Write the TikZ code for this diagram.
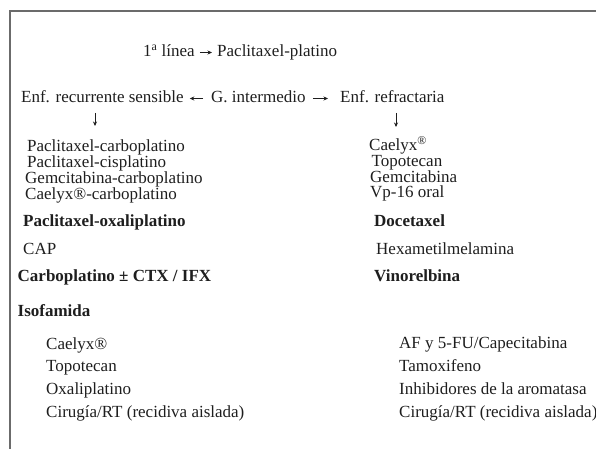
\documentclass[tikz,border=0pt]{standalone}
\usepackage{fontspec}
\setmainfont{Liberation Serif}
\usetikzlibrary{arrows.meta}

\begin{document}
\begin{tikzpicture}[x=1pt,y=-1pt]
    \definecolor{frameColour}{HTML}{6B6B6B}
    \definecolor{textColour}{HTML}{1E1E1E}

    \tikzset{
        txt/.style={anchor=base west, inner sep=0pt, text=textColour, font=\fontsize{17}{20}\selectfont},
        btxt/.style={txt, font=\fontsize{17}{20}\selectfont\bfseries},
        arr/.style={draw=textColour, line width=0.6pt, -{Stealth[length=4.5pt,width=4pt]}}
    }

    \def\arrowLift{4.5pt}

    \useasboundingbox (0,0) rectangle (596,449);

    % Draw frame
    \draw[frameColour, line width=1.6pt] (10,449) -- (10,11) -- (596,11);

    % First line
    \node[txt] (linea) at (143,57) {1\textsuperscript{a} línea};
    \node[txt] (platino) at (217,57) {Paclitaxel-platino};
    \draw[arr, shorten <=5pt, shorten >=5pt] ([yshift=\arrowLift]linea.base east) -- ([yshift=\arrowLift]platino.base west);

    % Groups
    \node[txt] (sens) at (21,103) {Enf. recurrente sensible};
    \node[txt] (inter) at (211,103) {G. intermedio};
    \node[txt] (refr) at (340,103) {Enf. refractaria};
    \draw[arr, shorten <=8pt, shorten >=6pt] ([yshift=\arrowLift]inter.base west) -- ([yshift=\arrowLift]sens.base east);
    \draw[arr, shorten <=7pt, shorten >=12pt] ([yshift=\arrowLift]inter.base east) -- ([yshift=\arrowLift]refr.base west);

    % Down arrows
    \coordinate (sensTop) at (95,113);
    \coordinate (sensEnd) at (95,126);
    \coordinate (refrTop) at (396,113);
    \coordinate (refrEnd) at (396,127);
    \draw[arr] (sensTop) -- (sensEnd);
    \draw[arr] (refrTop) -- (refrEnd);

    % Sensitive list
    \foreach \xx/\drug [count=\i] in {27/Paclitaxel-carboplatino, 27/Paclitaxel-cisplatino,
            25/Gemcitabina-carboplatino, 25/Caelyx®-carboplatino}
        \node[txt] (sens\i) at (\xx,{151.7+15.8*(\i-1)}) {\drug};

    % Refractory list
    \foreach \xx/\drug [count=\i] in {369/Caelyx\textsuperscript{®}, 371.5/Topotecan,
            370/Gemcitabina, 370/Vp-16 oral}
        \node[txt] (refr\i) at (\xx,{150.5+15.8*(\i-1)}) {\drug};

    % Second level
    \node[btxt] (pacox) at (23,226) {Paclitaxel-oxaliplatino};
    \node[txt] (cap) at (23,254.3) {CAP};
    \node[btxt] (carbo) at (17.5,281.7) {Carboplatino ± CTX / IFX};
    \node[btxt] (isof) at (17.5,316) {Isofamida};
    \node[btxt] (doce) at (374,226) {Docetaxel};
    \node[txt] (hexa) at (376,254.3) {Hexametilmelamina};
    \node[btxt] (vino) at (374,281.7) {Vinorelbina};

    % Other options
    \foreach \drug [count=\i] in {Caelyx®, Topotecan, Oxaliplatino, Cirugía/RT (recidiva aislada)}
        \node[txt] (otherL\i) at (46,{349+22.7*(\i-1)}) {\drug};
    \foreach \drug [count=\i] in {AF y 5-FU/Capecitabina, Tamoxifeno, Inhibidores de la aromatasa,
            Cirugía/RT (recidiva aislada)}
        \node[txt] (otherR\i) at (399,{348.5+22.9*(\i-1)}) {\drug};

\end{tikzpicture}
\end{document}
